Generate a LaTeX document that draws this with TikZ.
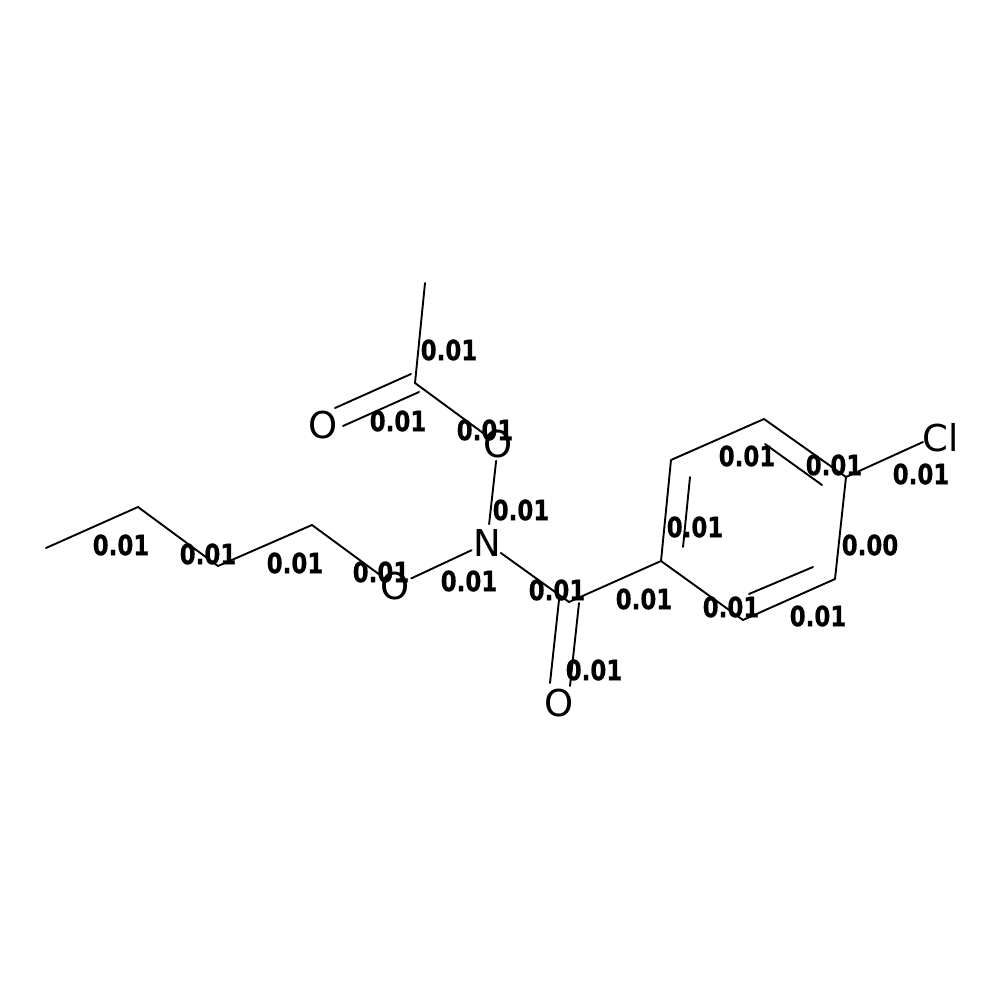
\documentclass[tikz,border=0pt]{standalone}
\usepackage{fontspec}
\setmainfont{DejaVu Sans}
\newfontfamily\labfont[FakeStretch=0.91,FakeBold=0.6]{DejaVu Sans Condensed Bold}
\tikzset{
  atomlab/.style={inner sep=0pt,font=\fontsize{37}{37}\selectfont},
  weight/.style={inner sep=0pt,font=\labfont\fontsize{28}{28}\selectfont},
  bond/.style={draw=black,line width=1.9pt,line cap=round,line join=round},
}
\begin{document}
\begin{tikzpicture}[x=1pt,y=-1pt]
\useasboundingbox (0,0) rectangle (1000,1000);
\fill[white] (0,0) rectangle (1000,1000);
% skeleton points
\coordinate (me) at (425,283);
\coordinate (ac) at (415,383);
\coordinate (c1) at (46,548);
\coordinate (c2) at (138,507);
\coordinate (c3) at (218,566);
\coordinate (c4) at (312,525);
\coordinate (co) at (569,602);
\coordinate (r1) at (661,561);
\coordinate (r2) at (671,460);
\coordinate (r3) at (764,419);
\coordinate (r4) at (846,477);
\coordinate (r5) at (835,579);
\coordinate (r6) at (743,620);
\coordinate (clb) at (923,442);
% double bond ends
\coordinate (a1) at (411,374); \coordinate (a2) at (335,408);
\coordinate (a3) at (419,392); \coordinate (a4) at (343,426);
\coordinate (b1) at (559,600); \coordinate (b2) at (550,683);
\coordinate (b3) at (579,603); \coordinate (b4) at (570,686);
\coordinate (i1) at (690,477); \coordinate (i2) at (683,547);
\coordinate (i3) at (765,444); \coordinate (i4) at (822,485);
\coordinate (i5) at (813,567); \coordinate (i6) at (749,594);
% atoms
\node[atomlab] (O1) at (323,425) {O};
\node[atomlab] (O2) at (498,444) {O};
\node[atomlab] (N) at (487,543) {N};
\node[atomlab] (O3) at (395,586) {O};
\node[atomlab] (O4) at (559,703) {O};
\node[atomlab] (Cl) at (941,438) {Cl};
% bonds
\draw[bond] (me) -- (ac);
\draw[bond] (a1) -- (a2);
\draw[bond] (a3) -- (a4);
\draw[bond,shorten >=18pt] (ac) -- (O2.center);
\draw[bond,shorten <=17pt,shorten >=19pt] (O2.center) -- (N.center);
\draw[bond,shorten <=17pt,shorten >=18pt] (N.center) -- (O3.center);
\draw[bond,shorten >=18pt] (c4) -- (O3.center);
\draw[bond] (c1) -- (c2) -- (c3) -- (c4);
\draw[bond,shorten <=17pt] (N.center) -- (co);
\draw[bond] (co) -- (r1);
\draw[bond] (b1) -- (b2);
\draw[bond] (b3) -- (b4);
\draw[bond] (r1) -- (r2) -- (r3) -- (r4) -- (r5) -- (r6) -- cycle;
\draw[bond] (i1) -- (i2);
\draw[bond] (i3) -- (i4);
\draw[bond] (i5) -- (i6);
\draw[bond] (r4) -- (clb);
% weights
\node[weight] (w1) at (449,350) {0.01};
\node[weight] (w2) at (398,421) {0.01};
\node[weight] (w3) at (485,430) {0.01};
\node[weight] (w4) at (521,510) {0.01};
\node[weight] (w5) at (469,581) {0.01};
\node[weight] (w6) at (381,572) {0.01};
\node[weight] (w7) at (295,563) {0.01};
\node[weight] (w8) at (208,554) {0.01};
\node[weight] (w9) at (121,545) {0.01};
\node[weight] (w10) at (557,590) {0.01};
\node[weight] (w11) at (644,599) {0.01};
\node[weight] (w12) at (594,670) {0.01};
\node[weight] (w13) at (731,607) {0.01};
\node[weight] (w14) at (818,616) {0.01};
\node[weight] (w15) at (870,545) {0.00};
\node[weight] (w16) at (695,527) {0.01};
\node[weight] (w17) at (747,456) {0.01};
\node[weight] (w18) at (834,465) {0.01};
\node[weight] (w19) at (921,474) {0.01};
\end{tikzpicture}
\end{document}
